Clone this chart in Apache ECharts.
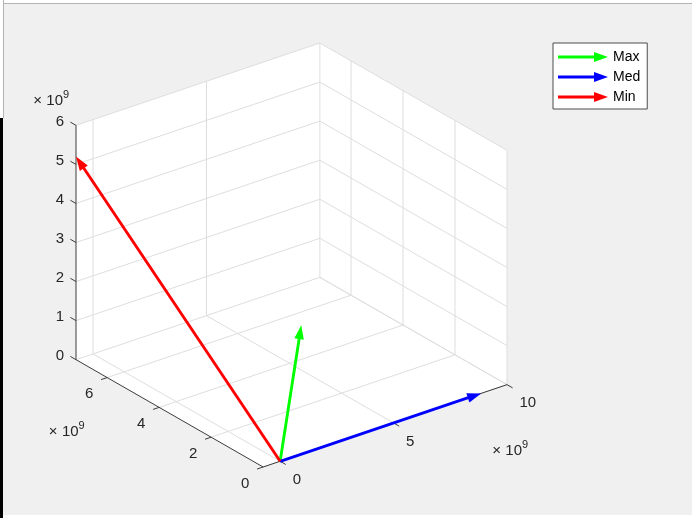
<!DOCTYPE html>
<html>
<head>
<meta charset="utf-8">
<script src="https://cdn.jsdelivr.net/npm/echarts@6/dist/echarts.min.js"></script>
<style>html,body{margin:0;padding:0;background:#f0f0f0;}#c{width:692px;height:518px;}</style>
</head>
<body>
<div id="c"></div>
<script>
// ---- data ----
const seriesNames = ['Max', 'Med', 'Min'];
const seriesColors = ['#00ff00', '#0000ff', '#ff0000'];
const originX = [0, 0, 0];
const originY = [0, 0, 0];
const originZ = [0, 0, 0];
const compU = [0.93e9, 8.86e9, -0.75e9];
const compV = [0, 0, 7.2e9];
const compW = [3.3e9, 0, 5.2e9];

const xLim = [-0.75e9, 10e9];
const yLim = [0, 7.2e9];
const zLim = [0, 6e9];
const xTicks = [0, 5e9, 10e9];
const yTicks = [0, 2e9, 4e9, 6e9];
const zTicks = [0, 1e9, 2e9, 3e9, 4e9, 5e9, 6e9];
const xTickLabels = ['0', '5', '10'];
const yTickLabels = ['0', '2', '4', '6'];
const zTickLabels = ['0', '1', '2', '3', '4', '5', '6'];
const exponentTimes = '\u00d7';
const exponentBase = '10';
const exponentPower = '9';

// ---- view (MATLAB default 3-D view: az = -37.5, el = 30) ----
const AZ = 37.5 * Math.PI / 180, EL = 30 * Math.PI / 180;
const ca = Math.cos(AZ), sa = Math.sin(AZ), ce = Math.cos(EL), se = Math.sin(EL);
function proj(x, y, z) {
  const u = (x - xLim[0]) / (xLim[1] - xLim[0]);
  const v = (y - yLim[0]) / (yLim[1] - yLim[0]);
  const w = (z - zLim[0]) / (zLim[1] - zLim[0]);
  return [u * ca - v * sa, (u * sa + v * ca) * se + w * ce];
}
const FONT = '"Liberation Sans", Arial, Helvetica, sans-serif';
const GRID = '#dedede', AXIS = '#3c3c3c', TXT = '#262626';

function renderBox(params, api) {
  const P = (x, y, z) => api.coord(proj(x, y, z));
  const ch = [];
  const xr = xLim[1] - xLim[0], yr = yLim[1] - yLim[0];
  const line = (a, b, color, lw) => ch.push({type: 'line', silent: true,
    shape: {x1: a[0], y1: a[1], x2: b[0], y2: b[1]}, style: {stroke: color, lineWidth: lw}});
  const text = (x, y, t, align, size) => ch.push({type: 'text', silent: true, x: x, y: y,
    style: {text: t, fill: TXT, fontSize: size || 15, fontFamily: FONT, align: align, verticalAlign: 'middle'}});
  const expo = (x, y) => {
    text(x - 21, y, exponentTimes, 'right');
    text(x, y, exponentBase, 'right');
    text(x, y - 6, exponentPower, 'left', 11);
  };
  // back planes fill
  const poly = [P(xLim[0], yLim[0], zLim[0]), P(xLim[1], yLim[0], zLim[0]), P(xLim[1], yLim[0], zLim[1]),
    P(xLim[1], yLim[1], zLim[1]), P(xLim[0], yLim[1], zLim[1]), P(xLim[0], yLim[1], zLim[0])];
  ch.push({type: 'polygon', silent: true, shape: {points: poly}, style: {fill: '#ffffff'}});
  // grid: floor
  xTicks.forEach(x => line(P(x, yLim[0], zLim[0]), P(x, yLim[1], zLim[0]), GRID, 1));
  yTicks.forEach(y => line(P(xLim[0], y, zLim[0]), P(xLim[1], y, zLim[0]), GRID, 1));
  // grid: wall y = ymax
  xTicks.forEach(x => line(P(x, yLim[1], zLim[0]), P(x, yLim[1], zLim[1]), GRID, 1));
  zTicks.forEach(z => line(P(xLim[0], yLim[1], z), P(xLim[1], yLim[1], z), GRID, 1));
  // grid: wall x = xmax
  yTicks.forEach(y => line(P(xLim[1], y, zLim[0]), P(xLim[1], y, zLim[1]), GRID, 1));
  zTicks.forEach(z => line(P(xLim[1], yLim[0], z), P(xLim[1], yLim[1], z), GRID, 1));
  // axis lines
  line(P(xLim[0], yLim[0], zLim[0]), P(xLim[1], yLim[0], zLim[0]), AXIS, 1);
  line(P(xLim[0], yLim[0], zLim[0]), P(xLim[0], yLim[1], zLim[0]), AXIS, 1);
  line(P(xLim[0], yLim[1], zLim[0]), P(xLim[0], yLim[1], zLim[1]), AXIS, 1);
  // ticks + labels
  xTicks.forEach((x, i) => {
    const a = P(x, yLim[0], zLim[0]);
    line(a, P(x, yLim[0] - 0.03 * yr, zLim[0]), AXIS, 1);
    text(a[0] + 12.5, a[1] + 18.5, xTickLabels[i], 'left');
  });
  yTicks.forEach((y, i) => {
    const a = P(xLim[0], y, zLim[0]);
    line(a, P(xLim[0] - 0.025 * xr, y, zLim[0]), AXIS, 1);
    text(a[0] - 18, a[1] + 16.5, yTickLabels[i], 'center');
  });
  zTicks.forEach((z, i) => {
    const a = P(xLim[0], yLim[1], z);
    line(a, P(xLim[0], yLim[1] + 0.03 * yr, z), AXIS, 1);
    text(a[0] - 12, a[1] - 3.5, zTickLabels[i], 'right');
  });
  // exponent labels
  const zt = P(xLim[0], yLim[1], zLim[1]);
  expo(zt[0] - 13, zt[1] - 24.5);
  const ym = P(xLim[0], (yLim[0] + yLim[1]) / 2, zLim[0]);
  expo(ym[0] - 91, ym[1] + 18.5);
  const xe = P(xLim[1], yLim[0], zLim[0]);
  expo(xe[0] + 15, xe[1] + 66);
  return {type: 'group', children: ch};
}

function renderArrow(params, api) {
  const o = [api.value(0), api.value(1), api.value(2)];
  const d = [api.value(3), api.value(4), api.value(5)];
  const p0 = api.coord(proj(o[0], o[1], o[2]));
  const p1 = api.coord(proj(o[0] + d[0], o[1] + d[1], o[2] + d[2]));
  const dx = p1[0] - p0[0], dy = p1[1] - p0[1];
  const len = Math.sqrt(dx * dx + dy * dy);
  const ux = dx / len, uy = dy / len, nx = -uy, ny = ux;
  const L = 14, Wd = 4.8;
  const bx = p1[0] - ux * L, by = p1[1] - uy * L;
  const color = api.visual('color');
  return {type: 'group', children: [
    {type: 'line', silent: true, shape: {x1: p0[0], y1: p0[1], x2: bx + ux * 2, y2: by + uy * 2},
      style: {stroke: color, lineWidth: 2.9}},
    {type: 'polygon', silent: true,
      shape: {points: [[p1[0], p1[1]], [bx + nx * Wd, by + ny * Wd], [bx - nx * Wd, by - ny * Wd]]},
      style: {fill: color}}
  ]};
}

const arrowIcon = 'path://M0,3.5 L36,3.5 L36,0 L50,5 L36,10 L36,6.5 L0,6.5 Z';
const series = [{type: 'custom', name: '_box', coordinateSystem: 'cartesian2d', data: [[0, 0]],
  renderItem: renderBox, silent: true, z: 1}];
seriesNames.forEach((n, i) => series.push({
  type: 'custom', name: n, coordinateSystem: 'cartesian2d', z: 2, silent: true,
  itemStyle: {color: seriesColors[i]},
  data: [[originX[i], originY[i], originZ[i], compU[i], compV[i], compW[i]]],
  renderItem: renderArrow
}));

const chart = echarts.init(document.getElementById('c'));
chart.setOption({
  backgroundColor: '#f0f0f0',
  animation: false,
  grid: {left: 76, top: 43, width: 431, height: 424, show: false},
  xAxis: {type: 'value', min: -sa, max: ca, show: false},
  yAxis: {type: 'value', min: 0, max: se * (sa + ca) + ce, show: false},
  legend: {
    orient: 'vertical', left: 553, top: 43, selectedMode: false,
    padding: [6, 7, 4, 5], itemGap: 4, itemWidth: 50, itemHeight: 10,
    backgroundColor: '#ffffff', borderColor: '#4d4d4d', borderWidth: 1, borderRadius: 0,
    textStyle: {fontSize: 14, lineHeight: 16, color: '#000', fontFamily: FONT},
    data: seriesNames.map(n => ({name: n, icon: arrowIcon}))
  },
  graphic: [
    {type: 'rect', silent: true, shape: {x: 0, y: 0, width: 692, height: 3}, style: {fill: '#ffffff'}},
    {type: 'line', silent: true, shape: {x1: 0, y1: 3.5, x2: 692, y2: 3.5}, style: {stroke: '#b4b4b4', lineWidth: 1}},
    {type: 'rect', silent: true, shape: {x: 0, y: 0, width: 3, height: 118}, style: {fill: '#ffffff'}},
    {type: 'line', silent: true, shape: {x1: 3.5, y1: 0, x2: 3.5, y2: 118}, style: {stroke: '#b4b4b4', lineWidth: 1}},
    {type: 'rect', silent: true, shape: {x: 0, y: 118, width: 3, height: 400}, style: {fill: '#000000'}},
    {type: 'rect', silent: true, shape: {x: 3, y: 515, width: 689, height: 3}, style: {fill: '#ffffff'}}
  ],
  series: series
});
</script>
</body>
</html>
